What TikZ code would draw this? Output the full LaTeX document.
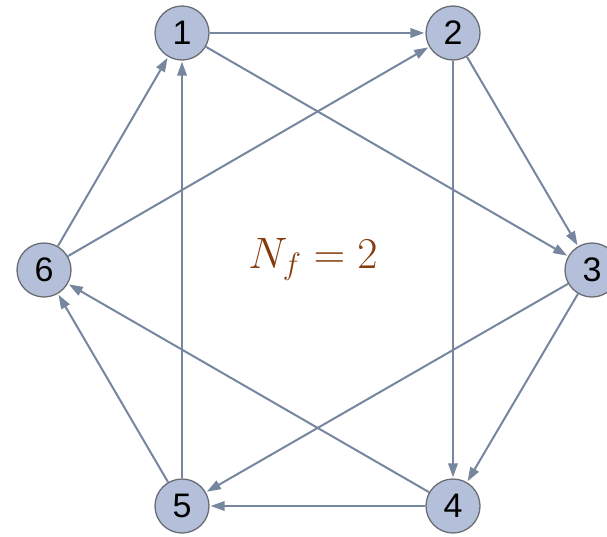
\RequirePackage{fix-cm}
\documentclass[tikz,border=0pt]{standalone}
\usepackage{fontspec}
\setsansfont{Liberation Sans}
\usetikzlibrary{arrows.meta}
\definecolor{edgecol}{RGB}{118,134,158}
\definecolor{vfill}{RGB}{180,192,218}
\definecolor{vline}{RGB}{105,108,115}
\definecolor{labcol}{RGB}{132,60,12}

\begin{document}
\begin{tikzpicture}[x=1pt,y=-1pt,>={Triangle[length=14pt,width=9.5pt]},
  vert/.style={circle,draw=vline,fill=vfill,line width=1.3pt,minimum size=54pt,
    inner sep=0pt,font=\sffamily\fontsize{34}{34}\selectfont},
  edge/.style={->,draw=edgecol,line width=2pt,shorten >=1pt}]
  \useasboundingbox (0,0) rectangle (607,536);

  \node[vert] (v1) at (182,33) {1};
  \node[vert] (v2) at (453,33) {2};
  \node[vert] (v3) at (592,270) {3};
  \node[vert] (v4) at (453,506) {4};
  \node[vert] (v5) at (182,506) {5};
  \node[vert] (v6) at (44,270) {6};

  \draw[edge] (v1) -- (v2);
  \draw[edge] (v1) -- (v3);
  \draw[edge] (v2) -- (v3);
  \draw[edge] (v2) -- (v4);
  \draw[edge] (v3) -- (v4);
  \draw[edge] (v3) -- (v5);
  \draw[edge] (v4) -- (v5);
  \draw[edge] (v4) -- (v6);
  \draw[edge] (v5) -- (v6);
  \draw[edge] (v5) -- (v1);
  \draw[edge] (v6) -- (v1);
  \draw[edge] (v6) -- (v2);

  \node[text=labcol,font=\fontsize{44}{44}\selectfont,anchor=base,inner sep=0pt]
    (lab) at (313,268) {$N_f = 2$};
\end{tikzpicture}
\end{document}
